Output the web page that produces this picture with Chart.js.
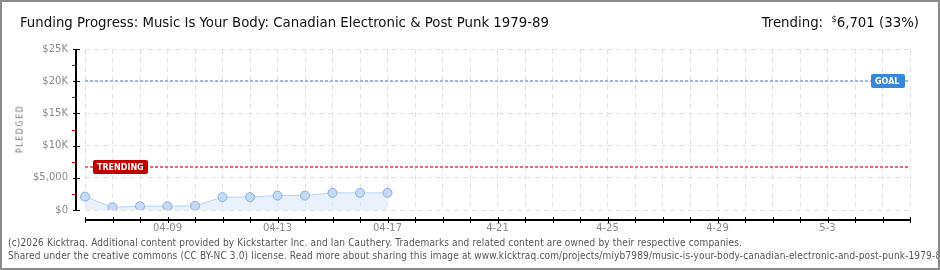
<!DOCTYPE html>
<html lang="en">
  <head>
    <meta charset="utf-8" />
    <title>Funding Progress</title>
    <style>
      * {
        margin: 0;
        padding: 0;
      }
      body {
        background: white;
      }
      .card {
        position: relative;
        width: 940px;
        height: 270px;
        overflow: hidden;
        background: white;
      }
      .card canvas {
        position: absolute;
        left: 0;
        top: 0;
      }
      .frame {
        position: absolute;
        left: 0;
        top: 0;
        width: 940px;
        height: 270px;
        box-sizing: border-box;
        border: 2px solid #8a8a8a;
        pointer-events: none;
      }
      .title {
        position: absolute;
        left: 20px;
        top: 13px;
        font: 14.8px "Liberation Sans Narrow", "DejaVu Sans Condensed", sans-serif;
        color: #111;
        white-space: nowrap;
      }
      .trend {
        position: absolute;
        right: 21px;
        top: 13px;
        font: 14.8px "Liberation Sans Narrow", "DejaVu Sans Condensed", sans-serif;
        color: #111;
        white-space: nowrap;
      }
      .trend sup {
        font-size: 9px;
        vertical-align: 5px;
      }
      .ytitle {
        position: absolute;
        left: 20px;
        top: 129px;
        transform: translate(-50%, -50%) rotate(-90deg);
        font: 8px "DejaVu Sans", sans-serif;
        letter-spacing: 1.5px;
        color: #777;
        white-space: nowrap;
      }
      .foot {
        position: absolute;
        left: 8px;
        font: 10px "Liberation Sans Narrow", "DejaVu Sans Condensed", sans-serif;
        letter-spacing: 0.15px;
        color: #555;
        white-space: nowrap;
      }
    </style>
  </head>
  <body>
    <div class="card">
      <canvas id="myChart" width="940" height="270"></canvas>
      <div class="title">Funding Progress: Music Is Your Body: Canadian Electronic &amp; Post Punk 1979-89</div>
      <div class="trend">Trending:&nbsp; <sup>$</sup>6,701 (33%)</div>
      <div class="ytitle">PLEDGED</div>
      <div class="foot" style="top: 237px">(c)2026 Kicktraq. Additional content provided by Kickstarter Inc. and Ian Cauthery. Trademarks and related content are owned by their respective companies.</div>
      <div class="foot" style="top: 250px">Shared under the creative commons (CC BY-NC 3.0) license. Read more about sharing this image at www.kicktraq.com/projects/miyb7989/music-is-your-body-canadian-electronic-and-post-punk-1979-89/</div>
      <div class="frame"></div>
    </div>

    <script src="https://cdn.jsdelivr.net/npm/chart.js"></script>

    <script>
      // data block
      const days = [
        "04-06", "04-07", "04-08", "04-09", "04-10", "04-11", "04-12", "04-13",
        "04-14", "04-15", "04-16", "04-17", "04-18", "04-19", "04-20", "04-21",
        "04-22", "04-23", "04-24", "04-25", "04-26", "04-27", "04-28", "04-29",
        "04-30", "05-01", "05-02", "05-03", "05-04", "05-05", "05-06",
      ];
      const tickText = ["04-09", "04-13", "04-17", "4-21", "4-25", "4-29", "5-3"];
      const pledged = [2080, 420, 580, 580, 670, 1990, 1990, 2240, 2240, 2660, 2660, 2660];
      const goal = 20000;
      const trending = 6701;

      // draws the offset axes and the goal / trending markers
      const kickAxes = {
        id: "kickAxes",
        afterDraw(chart) {
          const {
            ctx,
            chartArea: { top, bottom, left, right },
            scales: { x, y },
          } = chart;
          ctx.save();

          // y axis
          const ax = 76;
          for (let v = 0; v <= 25000; v += 2500) {
            const py = Math.round(y.getPixelForValue(v));
            if (v % 5000 === 0) {
              ctx.fillStyle = "#000";
              ctx.fillRect(ax - 3, py, 7, 1);
            } else {
              ctx.fillStyle = "#e00000";
              ctx.fillRect(ax - 4, py, 4, 1);
            }
          }
          ctx.fillStyle = "#000";
          ctx.fillRect(ax - 1, top, 2, bottom - top + 1);

          // x axis
          const ay = 219;
          ctx.fillRect(left, ay, right - left + 1, 2);
          days.forEach((d, i) => {
            const px = Math.round(x.getPixelForValue(i));
            ctx.fillRect(px, ay - 2, 1, 6);
          });

          // marker lines
          const marker = (value, lineColor, boxColor, text, boxX, boxW) => {
            const py = Math.round(y.getPixelForValue(value));
            ctx.strokeStyle = lineColor;
            ctx.lineWidth = 2;
            ctx.setLineDash([3, 2]);
            ctx.beginPath();
            ctx.moveTo(left, py);
            ctx.lineTo(right, py);
            ctx.stroke();
            ctx.setLineDash([]);

            ctx.fillStyle = boxColor;
            ctx.beginPath();
            ctx.roundRect(boxX, py - 7, boxW, 14, 2);
            ctx.fill();
            ctx.fillStyle = "#fff";
            ctx.font = "bold 8px 'DejaVu Sans'";
            ctx.textBaseline = "middle";
            ctx.textAlign = "left";
            ctx.fillText(text, boxX + 4, py + 0.5);
          };
          marker(goal, "#9db8dc", "#3a87d6", "GOAL", 871, 34);
          marker(trending, "#e07070", "#c00000", "TRENDING", 93, 55);

          ctx.restore();
        },
      };

      // config block
      const config = {
        type: "line",
        data: {
          labels: days,
          datasets: [
            {
              label: "Pledged",
              data: pledged,
              borderColor: "#b7d3f2",
              borderWidth: 1,
              backgroundColor: "rgba(214, 230, 249, 0.55)",
              fill: "origin",
              tension: 0,
              pointRadius: 4.5,
              pointBackgroundColor: "#c3dbf6",
              pointBorderColor: "#8badd6",
              pointBorderWidth: 1,
            },
          ],
        },
        options: {
          responsive: false,
          animation: false,
          layout: {
            padding: { left: 0, right: 30, top: 49, bottom: 30 },
          },
          plugins: {
            legend: { display: false },
            tooltip: { enabled: false },
          },
          scales: {
            x: {
              offset: false,
              afterFit: (s) => {
                s.height = 30;
              },
              grid: {
                color: "#e2e2e2",
                drawTicks: false,
              },
              border: { display: false, dash: [5, 4] },
              ticks: {
                autoSkip: false,
                maxRotation: 0,
                padding: 12,
                color: "#8a8a8a",
                font: { family: "DejaVu Sans", size: 10 },
                callback: (val, i) =>
                  i >= 3 && (i - 3) % 4 === 0 ? tickText[(i - 3) / 4] : "",
              },
            },
            y: {
              min: 0,
              max: 25000,
              afterFit: (s) => {
                s.width = 85;
              },
              grid: {
                color: (c) =>
                  c.tick && c.tick.value % 5000 === 0 ? "#e2e2e2" : "rgba(0,0,0,0)",
                drawTicks: false,
              },
              border: { display: false, dash: [5, 4] },
              ticks: {
                stepSize: 2500,
                padding: 17,
                color: "#8a8a8a",
                font: { family: "DejaVu Sans", size: 10 },
                callback: (v) => {
                  if (v % 5000 !== 0) return "";
                  if (v === 0) return "$0";
                  if (v === 5000) return "$5,000";
                  return "$" + v / 1000 + "K";
                },
              },
            },
          },
        },
        plugins: [kickAxes],
      };

      // init render block
      const ctx = document.getElementById("myChart");
      const myChart = new Chart(ctx, config);
    </script>
  </body>
</html>
